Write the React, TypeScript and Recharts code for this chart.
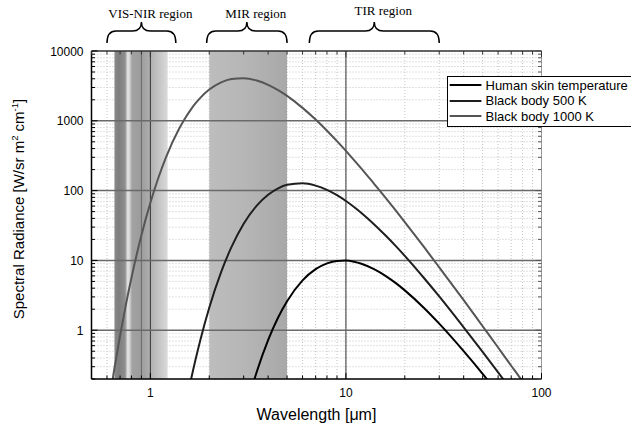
import React from 'react'
import {
  LineChart,
  Line,
  XAxis,
  YAxis,
  CartesianGrid,
  ReferenceArea,
  ReferenceLine,
  Legend,
} from 'recharts'

// wavelength samples [µm]
const wavelength = [
  0.6, 0.65, 0.7, 0.75, 0.8, 0.9, 1, 1.1, 1.2, 1.4, 1.5, 1.6, 1.7, 1.8, 2, 2.3, 2.6, 3, 3.5, 4, 4.5,
  5, 6, 7, 8, 9, 10, 11, 12, 14, 16, 18, 20, 25, 30, 40, 50, 60, 70, 80, 90, 100,
]

// radiance values
const skin = [
  null, null, null, null, null, null, null, null, null, null, null, null, null, null, null, null,
  0.0098, 0.056, 0.254, 0.72, 1.52, 2.6, 5.18, 7.5, 9.08, 9.83, 9.93, 9.57, 8.96, 7.44, 5.97, 4.72,
  3.72, 2.1, 1.24, 0.5, 0.237, 0.125, 0.072, 0.044, 0.0287, 0.0194,
]
const bb500 = [
  null, null, null, null, null, null, null, null, null, 0.026, 0.073, 0.176, 0.374, 0.72, 2.1, 6.8,
  15.6, 33.5, 61, 87.4, 108, 121, 127.6, 118, 102.4, 86, 71, 58.3, 47.9, 32.5, 22.5, 16, 11.6, 5.64,
  3.05, 1.1, 0.49, 0.249, 0.139, 0.084, 0.0535, 0.0357,
]
const bb1000 = [
  0.059, 0.25, 0.84, 2.34, 5.6, 23, 67, 154, 297, 762, 1071, 1412, 1770, 2130, 2800, 3560, 3976,
  4084, 3780, 3277, 2750, 2273, 1531, 1041, 721, 511, 370, 274, 207, 123, 78, 51.5, 35.3, 15.7, 7.96,
  2.69, 1.14, 0.565, 0.31, 0.185, 0.116, 0.077,
]

const seriesNames = ['Human skin temperature', 'Black body 500 K', 'Black body 1000 K']

const xTicks = [
  0.5, 0.6, 0.7, 0.8, 0.9, 1, 2, 3, 4, 5, 6, 7, 8, 9, 10, 20, 30, 40, 50, 60, 70, 80, 90, 100,
]
const yTicks = [
  0.2, 0.3, 0.4, 0.5, 0.6, 0.7, 0.8, 0.9, 1, 2, 3, 4, 5, 6, 7, 8, 9, 10, 20, 30, 40, 50, 60, 70, 80,
  90, 100, 200, 300, 400, 500, 600, 700, 800, 900, 1000, 2000, 3000, 4000, 5000, 6000, 7000, 8000,
  9000, 10000,
]
const xMajor = [1, 10, 100]
const yMajor = [1, 10, 100, 1000, 10000]

// shaded spectral bands and brace ranges [µm]
const bands = [
  { id: 'visGrad', from: 0.655, to: 1.225 },
  { id: 'mirGrad', from: 2, to: 5 },
]
const regions = [
  { name: 'VIS-NIR region', from: 0.6, to: 1.35, lift: 0 },
  { name: 'MIR region', from: 1.94, to: 5, lift: 0 },
  { name: 'TIR region', from: 6.5, to: 30, lift: 3 },
]

const data = wavelength.map((w, i) => ({
  w,
  skin: skin[i],
  bb500: bb500[i],
  bb1000: bb1000[i],
}))

const SANS = '"Liberation Sans", Arial, sans-serif'
const SERIF = '"Liberation Serif", "Times New Roman", serif'

const isMajor = (v: number, majors: number[]) => majors.some((m) => Math.abs(m - v) < 1e-9)

const BottomTick = (props: any) => {
  const { x, y, payload } = props
  const major = isMajor(payload.value, xMajor)
  return (
    <g>
      <line x1={x} x2={x} y1={y} y2={y - (major ? 6 : 3.5)} stroke="#000" strokeWidth={1} />
      {major && (
        <text x={x} y={y + 18} textAnchor="middle" fontSize={12} fontFamily={SANS} fill="#000">
          {payload.value}
        </text>
      )}
    </g>
  )
}

const TopTick = (props: any) => {
  const { x, y, payload } = props
  const major = isMajor(payload.value, xMajor)
  return <line x1={x} x2={x} y1={y} y2={y + (major ? 6 : 3.5)} stroke="#333" strokeWidth={1} />
}

const LeftTick = (props: any) => {
  const { x, y, payload } = props
  const major = isMajor(payload.value, yMajor)
  return (
    <g>
      <line x1={x} x2={x + (major ? 6 : 3.5)} y1={y} y2={y} stroke="#000" strokeWidth={1} />
      {major && (
        <text x={x - 8} y={y + 4.5} textAnchor="end" fontSize={12} fontFamily={SANS} fill="#000">
          {payload.value}
        </text>
      )}
    </g>
  )
}

const RightTick = (props: any) => {
  const { x, y, payload } = props
  const major = isMajor(payload.value, yMajor)
  return <line x1={x} x2={x - (major ? 6 : 3.5)} y1={y} y2={y} stroke="#555" strokeWidth={1} />
}

const Brace = (props: any) => {
  const { x, y, width, name, lift } = props
  const x0 = x
  const x1 = x + width
  const xm = x + width / 2
  const yb = y - 8
  const ym = y - 20
  const yt = y - 29
  const r = 9
  const d = `M${x0},${yb} Q${x0},${ym} ${x0 + r},${ym} L${xm - r},${ym} Q${xm},${ym} ${xm},${yt} Q${xm},${ym} ${xm + r},${ym} L${x1 - r},${ym} Q${x1},${ym} ${x1},${yb}`
  return (
    <g>
      <path d={d} fill="none" stroke="#000" strokeWidth={1.5} />
      <text x={xm + 9} y={y - 33 - lift} textAnchor="middle" fontSize={13} fontFamily={SERIF} fill="#000">
        {name}
      </text>
    </g>
  )
}

const renderLegend = (props: any) => {
  const payload = [...(props.payload || [])].sort(
    (a: any, b: any) => seriesNames.indexOf(a.value) - seriesNames.indexOf(b.value)
  )
  return (
    <div
      style={{
        border: '1px solid #000',
        background: '#fff',
        width: 190,
        padding: '1px 0 2px 0',
        fontFamily: SANS,
        fontSize: 13,
        color: '#000',
        boxSizing: 'border-box',
      }}
    >
      {payload.map((p: any) => (
        <div key={p.value} style={{ display: 'flex', alignItems: 'center', height: 15.5, lineHeight: '15.5px' }}>
          <svg width={34} height={4} style={{ display: 'block' }}>
            <line x1={1.7} x2={33.4} y1={2} y2={2} stroke={p.color} strokeWidth={2} />
          </svg>
          <span style={{ marginLeft: 3.5, whiteSpace: 'nowrap' }}>{p.value}</span>
        </div>
      ))}
    </div>
  )
}

const XTitle = (props: any) => {
  const { viewBox } = props
  return (
    <text
      x={viewBox.x + viewBox.width / 2}
      y={viewBox.y + 41}
      textAnchor="middle"
      fontSize={16}
      fontFamily={SANS}
      fill="#000"
    >
      Wavelength [μm]
    </text>
  )
}

const YTitle = () => {
  const cx = 24
  const cy = 209
  return (
    <text
      x={cx}
      y={cy}
      transform={`rotate(-90 ${cx} ${cy})`}
      textAnchor="middle"
      fontSize={15}
      fontFamily={SANS}
      fill="#000"
    >
      Spectral Radiance [W/sr m
      <tspan dy={-6} fontSize={9.5}>2</tspan>
      <tspan dy={6}> cm</tspan>
      <tspan dy={-6} fontSize={9.5}>-1</tspan>
      <tspan dy={6}>]</tspan>
    </text>
  )
}

export default function App() {
  return (
    <div style={{ position: 'absolute', left: 0, top: 0, width: 631, height: 430, overflow: 'hidden', background: '#fff' }}>
      <LineChart
        width={631}
        height={430}
        data={data}
        margin={{ top: 50, right: 88.5, bottom: 0, left: 0 }}
        style={{ fontFamily: SANS }}
      >
        <defs>
          <linearGradient id="visGrad" x1="0" y1="0" x2="1" y2="0">
            <stop offset="0" stopColor="#8a8a8a" />
            <stop offset="0.08" stopColor="#7e7e7e" />
            <stop offset="0.2" stopColor="#8e8e8e" />
            <stop offset="0.25" stopColor="#e6e6e6" />
            <stop offset="0.29" stopColor="#d0d0d0" />
            <stop offset="0.33" stopColor="#a2a2a2" />
            <stop offset="0.5" stopColor="#9c9c9c" />
            <stop offset="0.65" stopColor="#acacac" />
            <stop offset="1" stopColor="#dadada" />
          </linearGradient>
          <linearGradient id="mirGrad" x1="0" y1="0" x2="1" y2="0">
            <stop offset="0" stopColor="#bdbdbd" />
            <stop offset="0.5" stopColor="#b5b5b5" />
            <stop offset="1" stopColor="#a8a8a8" />
          </linearGradient>
        </defs>
        <CartesianGrid
          xAxisId="b"
          yAxisId="l"
          stroke="#c4c4c4"
          strokeDasharray="1 2"
          strokeWidth={1}
        />
        <XAxis
          xAxisId="b"
          dataKey="w"
          type="number"
          scale="log"
          domain={[0.5, 100]}
          allowDataOverflow
          ticks={xTicks}
          interval={0}
          tickSize={0}
          tickMargin={0}
          tickLine={false}
          tick={<BottomTick />}
          height={51}
          axisLine={{ stroke: '#000', strokeWidth: 1.5 }}
          label={<XTitle />}
        />
        <XAxis
          xAxisId="t"
          orientation="top"
          dataKey="w"
          type="number"
          scale="log"
          domain={[0.5, 100]}
          allowDataOverflow
          ticks={xTicks}
          interval={0}
          tickSize={0}
          tickMargin={0}
          tickLine={false}
          tick={<TopTick />}
          height={1}
          axisLine={{ stroke: '#333', strokeWidth: 1.5 }}
        />
        <YAxis
          yAxisId="l"
          type="number"
          scale="log"
          domain={[0.2, 10000]}
          allowDataOverflow
          ticks={yTicks}
          interval={0}
          tickSize={0}
          tickMargin={0}
          tickLine={false}
          tick={<LeftTick />}
          width={91.5}
          axisLine={{ stroke: '#000', strokeWidth: 1.5 }}
          label={<YTitle />}
        />
        <YAxis
          yAxisId="r"
          orientation="right"
          type="number"
          scale="log"
          domain={[0.2, 10000]}
          allowDataOverflow
          ticks={yTicks}
          interval={0}
          tickSize={0}
          tickMargin={0}
          tickLine={false}
          tick={<RightTick />}
          width={1}
          axisLine={{ stroke: '#999', strokeWidth: 1 }}
        />
        {bands.map((b) => (
          <ReferenceArea
            key={b.id}
            xAxisId="b"
            yAxisId="l"
            x1={b.from}
            x2={b.to}
            fill={`url(#${b.id})`}
            fillOpacity={1}
            stroke="none"
            ifOverflow="visible"
          />
        ))}
        <ReferenceLine xAxisId="b" yAxisId="l" x={0.9} stroke="#6a6a6a" strokeWidth={1} />
        {xMajor.slice(0, 2).map((v) => (
          <ReferenceLine key={`vx${v}`} xAxisId="b" yAxisId="l" x={v} stroke="#333" strokeWidth={1} />
        ))}
        {yMajor.slice(0, 4).map((v) => (
          <ReferenceLine key={`hy${v}`} xAxisId="b" yAxisId="l" y={v} stroke="#6a6a6a" strokeWidth={1.5} />
        ))}
        {regions.map((r) => (
          <ReferenceArea
            key={r.name}
            xAxisId="b"
            yAxisId="l"
            x1={r.from}
            x2={r.to}
            fill="none"
            stroke="none"
            ifOverflow="visible"
            shape={(p: any) => <Brace {...p} name={r.name} lift={r.lift} />}
          />
        ))}
        <Line
          xAxisId="b"
          yAxisId="l"
          name={seriesNames[0]}
          dataKey="skin"
          type="monotone"
          stroke="#000"
          strokeWidth={2}
          dot={false}
          isAnimationActive={false}
        />
        <Line
          xAxisId="b"
          yAxisId="l"
          name={seriesNames[1]}
          dataKey="bb500"
          type="monotone"
          stroke="#1e1e1e"
          strokeWidth={2}
          dot={false}
          isAnimationActive={false}
        />
        <Line
          xAxisId="b"
          yAxisId="l"
          name={seriesNames[2]}
          dataKey="bb1000"
          type="monotone"
          stroke="#555"
          strokeWidth={2}
          dot={false}
          isAnimationActive={false}
        />
        <Legend
          layout="vertical"
          align="center"
          verticalAlign="middle"
          content={renderLegend}
          wrapperStyle={{ left: 447, top: 75.5, width: 190, height: 'auto' }}
        />
      </LineChart>
    </div>
  )
}
